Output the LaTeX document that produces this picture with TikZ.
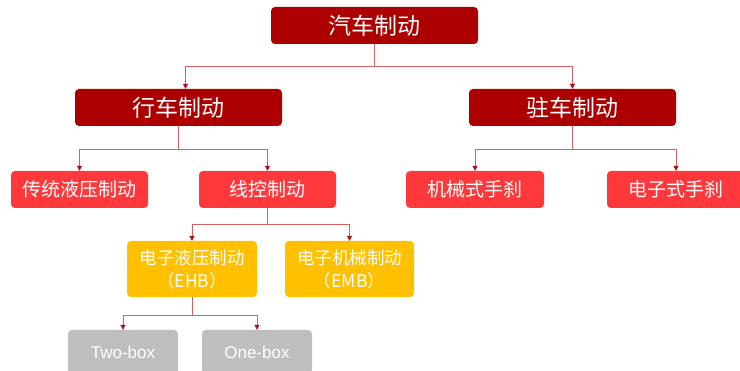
\documentclass[tikz,border=0pt]{standalone}
\usepackage{fontspec}
\newfontfamily\cjk{Noto Sans CJK SC}
\newfontfamily\lat{Liberation Sans}
\usetikzlibrary{arrows.meta}
\definecolor{dred}{RGB}{172,0,0}
\definecolor{bred}{RGB}{255,56,60}
\definecolor{myyel}{RGB}{255,192,0}
\definecolor{mygray}{RGB}{190,190,190}
\definecolor{lnc}{RGB}{214,96,96}
\definecolor{tipc}{RGB}{180,10,10}
\tikzset{
  box/.style={rounded corners=4pt, text=white, inner sep=0pt, align=center},
  lv0/.style={box, fill=dred, minimum width=207pt, minimum height=37pt, font=\cjk\fontsize{23}{26}\selectfont},
  lv2/.style={box, fill=bred, minimum height=37pt, font=\cjk\fontsize{19}{22}\selectfont},
  lv3/.style={box, fill=myyel, minimum height=56pt, font=\cjk\fontsize{17.5}{23}\selectfont},
  lv4/.style={box, fill=mygray, minimum width=110pt, minimum height=44pt, font=\lat\fontsize{17}{20}\selectfont},
  ln/.style={draw=lnc, line width=0.9pt},
  arr/.style={ln, -{Triangle[width=5pt,length=5pt,color=tipc]}}
}
\begin{document}
\begin{tikzpicture}[x=1pt,y=-1pt]
\useasboundingbox (0,0) rectangle (740,371);
\node[lv0] (root) at (374.5,25.5) {汽车制动};
\node[lv0] (xc) at (178.5,107.5) {行车制动};
\node[lv0] (zc) at (572.5,107.5) {驻车制动};
\node[lv2, minimum width=137pt] (ct) at (79.5,189.5) {传统液压制动};
\node[lv2, minimum width=137pt] (xk) at (267.5,189.5) {线控制动};
\node[lv2, minimum width=138pt] (jx) at (475,189.5) {机械式手刹};
\node[lv2, minimum width=138pt] (dz) at (676,189.5) {电子式手刹};
\node[lv3, minimum width=130pt] (ehb) at (192,269) {电子液压制动\\（EHB）};
\node[lv3, minimum width=129pt] (emb) at (349.5,269) {电子机械制动\\（EMB）};
\node[lv4] (two) at (123,352) {Two-box};
\node[lv4] (one) at (257,352) {One-box};
% connectors
\coordinate (r1) at (374.5,66);
\coordinate (xcin) at ([xshift=7pt]xc.north);
\draw[ln] (root.south) -- (r1);
\draw[arr] (r1) -| (xcin);
\draw[arr] (r1) -| (zc.north);
\coordinate (x1) at (178.5,149);
\draw[ln] (xc.south) -- (x1);
\draw[arr] (x1) -| (ct.north);
\draw[arr] (x1) -| (xk.north);
\coordinate (z1) at (572.5,149);
\draw[ln] (zc.south) -- (z1);
\draw[arr] (z1) -| (jx.north);
\draw[arr] (z1) -| (dz.north);
\coordinate (k1) at (267.5,224);
\draw[ln] (xk.south) -- (k1);
\draw[arr] (k1) -| (ehb.north);
\draw[arr] (k1) -| (emb.north);
\coordinate (e1) at (192,315);
\draw[ln] (ehb.south) -- (e1);
\draw[arr] (e1) -| (two.north);
\draw[arr] (e1) -| (one.north);
\end{tikzpicture}
\end{document}
